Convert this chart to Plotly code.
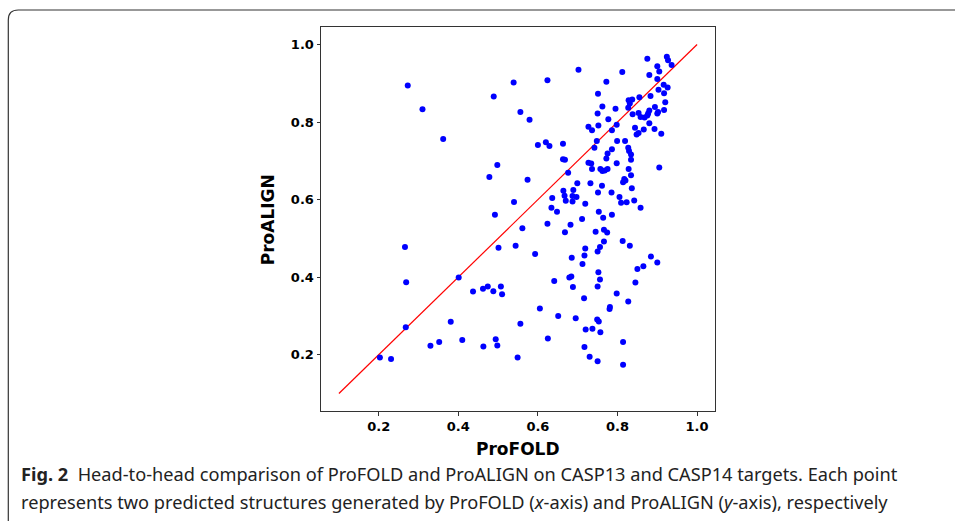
import plotly.graph_objects as go

# ---- data (ProFOLD x, ProALIGN y) ----
profold = [
    0.273, 0.310, 0.489, 0.539, 0.362, 0.556, 0.579, 0.624, 0.702, 0.772,
    0.812, 0.875, 0.924, 0.927, 0.936, 0.900, 0.905, 0.880, 0.900, 0.916,
    0.926, 0.903, 0.917, 0.883, 0.855, 0.751, 0.828, 0.837, 0.831, 0.827,
    0.762, 0.795, 0.894, 0.920, 0.917, 0.880, 0.877, 0.902, 0.900, 0.853,
    0.838, 0.858, 0.868, 0.875, 0.750, 0.777, 0.880, 0.844, 0.752, 0.727,
    0.736, 0.798, 0.786, 0.866, 0.893, 0.853, 0.848, 0.910, 0.748, 0.799,
    0.819, 0.742, 0.827, 0.829, 0.834, 0.775, 0.786, 0.600, 0.620, 0.629,
    0.663,
    0.498, 0.478, 0.540, 0.492, 0.501, 0.544, 0.266, 0.269, 0.401,
    0.663, 0.668, 0.727, 0.734, 0.772, 0.798, 0.834, 0.905, 0.736, 0.757,
    0.762, 0.768, 0.775, 0.828, 0.676, 0.574, 0.834, 0.817, 0.820, 0.814,
    0.699, 0.732, 0.761, 0.836, 0.664, 0.689, 0.751, 0.785, 0.667, 0.687,
    0.697, 0.805, 0.636, 0.670, 0.687, 0.809, 0.823, 0.842, 0.719, 0.634,
    0.648, 0.858, 0.753, 0.786, 0.764, 0.711, 0.624, 0.682, 0.561, 0.668,
    0.745, 0.766, 0.774, 0.766, 0.813, 0.831, 0.756, 0.719, 0.750, 0.593,
    0.717, 0.685, 0.884, 0.900, 0.865, 0.850, 0.712, 0.752, 0.679, 0.684,
    0.756, 0.641, 0.845,
    0.437, 0.462, 0.474, 0.488, 0.507, 0.510, 0.268, 0.381, 0.330, 0.352,
    0.410, 0.463, 0.494, 0.498, 0.203, 0.231,
    0.688, 0.750, 0.798, 0.716, 0.827, 0.605, 0.781, 0.780, 0.651, 0.695,
    0.556, 0.749, 0.753, 0.720, 0.737, 0.757, 0.625, 0.814, 0.717, 0.549,
    0.730, 0.750, 0.814,
]
proalign = [
    0.894, 0.833, 0.866, 0.902, 0.756, 0.826, 0.806, 0.908, 0.935, 0.904,
    0.929, 0.963, 0.968, 0.959, 0.947, 0.944, 0.930, 0.921, 0.911, 0.896,
    0.889, 0.883, 0.874, 0.867, 0.864, 0.873, 0.856, 0.858, 0.848, 0.837,
    0.840, 0.834, 0.839, 0.851, 0.831, 0.830, 0.822, 0.826, 0.822, 0.823,
    0.820, 0.813, 0.812, 0.817, 0.822, 0.807, 0.797, 0.785, 0.791, 0.788,
    0.779, 0.793, 0.779, 0.781, 0.782, 0.772, 0.768, 0.770, 0.751, 0.751,
    0.751, 0.734, 0.734, 0.725, 0.716, 0.719, 0.730, 0.741, 0.748, 0.738,
    0.744,
    0.689, 0.658, 0.594, 0.561, 0.476, 0.481, 0.478, 0.387, 0.399,
    0.704, 0.703, 0.695, 0.693, 0.706, 0.694, 0.703, 0.683, 0.679, 0.679,
    0.674, 0.675, 0.679, 0.679, 0.669, 0.651, 0.663, 0.653, 0.649, 0.645,
    0.642, 0.642, 0.636, 0.629, 0.623, 0.625, 0.618, 0.618, 0.610, 0.609,
    0.607, 0.607, 0.604, 0.597, 0.595, 0.592, 0.593, 0.598, 0.589, 0.579,
    0.569, 0.579, 0.569, 0.561, 0.553, 0.550, 0.538, 0.535, 0.526, 0.516,
    0.517, 0.522, 0.515, 0.492, 0.493, 0.481, 0.478, 0.474, 0.466, 0.460,
    0.456, 0.450, 0.453, 0.438, 0.428, 0.421, 0.434, 0.413, 0.399, 0.402,
    0.394, 0.390, 0.386,
    0.363, 0.370, 0.376, 0.364, 0.376, 0.356, 0.271, 0.285, 0.223, 0.233,
    0.238, 0.221, 0.240, 0.224, 0.193, 0.189,
    0.375, 0.376, 0.358, 0.346, 0.337, 0.319, 0.323, 0.318, 0.300, 0.294,
    0.280, 0.291, 0.286, 0.265, 0.267, 0.258, 0.242, 0.233, 0.220, 0.193,
    0.195, 0.183, 0.174,
]
diag = [0.1, 1.0]
tick_vals = [0.2, 0.4, 0.6, 0.8, 1.0]
tick_text = ["0.2", "0.4", "0.6", "0.8", "1.0"]
x_title = "ProFOLD"
y_title = "ProALIGN"
caption_1 = ("<b>Fig. 2</b>  Head-to-head comparison of ProFOLD and ProALIGN on "
             "CASP13 and CASP14 targets. Each point")
caption_2 = ("represents two predicted structures generated by ProFOLD "
             "(<i>x</i>-axis) and ProALIGN (<i>y</i>-axis), respectively")

# ---- layout geometry (pixels) ----
W, H = 955, 521
PL, PR, PT, PB = 320.7, 714.7, 27.0, 411.0


def px(xpix):
    return (xpix - PL) / (PR - PL)


def py(ypix):
    return (PB - ypix) / (PB - PT)


fig = go.Figure()
fig.add_trace(go.Scatter(
    x=diag, y=diag, mode="lines",
    line=dict(color="#ff0000", width=1.2), hoverinfo="skip", showlegend=False))
fig.add_trace(go.Scatter(
    x=profold, y=proalign, mode="markers",
    marker=dict(color="#0000ff", size=6, line=dict(width=0)),
    showlegend=False))

tick_font = dict(family="DejaVu Sans", size=13, color="black", weight="bold")
axis_common = dict(
    range=[0.055, 1.045], tickvals=tick_vals, ticktext=tick_text,
    showgrid=False, zeroline=False, showline=True, linecolor="#333333",
    linewidth=1, mirror=True, ticks="outside", ticklen=3.5, tickwidth=0.8,
    tickcolor="#333333", tickfont=tick_font)

fig.update_layout(
    width=W, height=H,
    margin=dict(l=PL, r=W - PR, t=PT, b=H - PB, pad=0),
    paper_bgcolor="white", plot_bgcolor="white",
    xaxis=dict(**axis_common),
    yaxis=dict(**axis_common),
)

title_font = dict(family="DejaVu Sans", size=17, color="black")
fig.add_annotation(text="<b>%s</b>" % x_title, xref="paper", yref="paper",
                   x=px(518), y=py(449), xanchor="center", yanchor="middle",
                   showarrow=False, font=title_font)
fig.add_annotation(text="<b>%s</b>" % y_title, xref="paper", yref="paper",
                   x=px(268), y=py(220), xanchor="center", yanchor="middle",
                   textangle=-90, showarrow=False, font=title_font)

cap_font = dict(family="Noto Sans", size=18.2, color="#222222")
fig.add_annotation(text=caption_1, xref="paper", yref="paper",
                   x=px(19), y=py(474), xanchor="left", yanchor="middle",
                   showarrow=False, font=cap_font)
fig.add_annotation(text=caption_2, xref="paper", yref="paper",
                   x=px(19), y=py(502), xanchor="left", yanchor="middle",
                   showarrow=False, font=cap_font)

# rounded border of the figure panel
r = 10
path = ("M {x0} {yb} L {x0} {y1} Q {x0} {yt} {x2} {yt} L {xr} {yt}").format(
    x0=px(8), yb=py(530), y1=py(10 + r), yt=py(10), x2=px(8 + r), xr=px(965))
fig.add_shape(type="path", path=path, xref="paper", yref="paper",
              line=dict(color="#333333", width=1.2), layer="above")

fig.write_html("out.html",
               config={"displayModeBar": False},
               post_script="document.body.style.margin='0';"
                           "document.body.style.overflow='hidden';")
